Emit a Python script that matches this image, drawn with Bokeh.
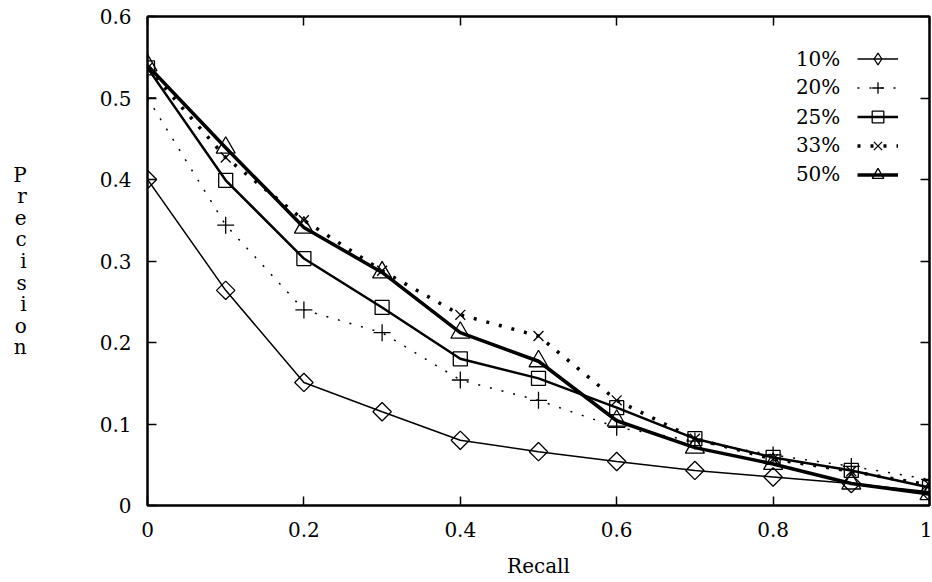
import numpy as np
from bokeh.plotting import figure
from bokeh.models import Range1d, LinearAxis, FixedTicker, Legend, LegendItem, Label
from bokeh.embed import file_html
from bokeh.resources import INLINE

# ---- data ----
recall = [0.0, 0.1, 0.2, 0.3, 0.4, 0.5, 0.6, 0.7, 0.8, 0.9, 1.0]
p10 = [0.400, 0.264, 0.151, 0.115, 0.080, 0.066, 0.054, 0.043, 0.035, 0.027, 0.017]
p20 = [0.500, 0.344, 0.240, 0.212, 0.154, 0.129, 0.096, 0.079, 0.062, 0.048, 0.032]
p25 = [0.537, 0.399, 0.303, 0.243, 0.180, 0.156, 0.120, 0.082, 0.059, 0.043, 0.022]
p33 = [0.537, 0.427, 0.350, 0.288, 0.234, 0.208, 0.129, 0.082, 0.057, 0.042, 0.025]
p50 = [0.540, 0.439, 0.341, 0.286, 0.212, 0.177, 0.104, 0.071, 0.051, 0.027, 0.014]
series_names = ["10%", "20%", "25%", "33%", "50%"]

x_ticks = [0, 0.2, 0.4, 0.6, 0.8, 1]
x_tick_labels = ["0", "0.2", "0.4", "0.6", "0.8", "1"]
y_ticks = [0, 0.1, 0.2, 0.3, 0.4, 0.5, 0.6]
y_tick_labels = ["0", "0.1", "0.2", "0.3", "0.4", "0.5", "0.6"]

FONT = "DejaVu Serif"
FS = "20px"

p = figure(width=932, height=582, x_range=Range1d(0, 1), y_range=Range1d(0, 0.6),
           output_backend="svg", toolbar_location=None,
           min_border_left=147, min_border_top=16, min_border_right=3, min_border_bottom=77)
p.xgrid.visible = False
p.ygrid.visible = False
p.outline_line_color = "black"
p.outline_line_width = 2
p.background_fill_color = "white"
p.border_fill_color = "white"

def style_axis(ax, ticks, labels, show_labels=True):
    ax.ticker = FixedTicker(ticks=ticks)
    if show_labels:
        ax.major_label_overrides = {t: l for t, l in zip(ticks, labels)}
        ax.major_label_text_font_size = FS
    else:
        ax.major_label_overrides = {t: "" for t in ticks}
        ax.major_label_text_font_size = "1px"
        ax.major_label_standoff = 0
    ax.axis_line_width = 2
    ax.axis_line_color = "black"
    ax.major_tick_in = 9
    ax.major_tick_out = 0
    ax.major_tick_line_width = 1.5
    ax.major_tick_line_color = "black"
    ax.minor_tick_line_color = None
    ax.major_label_text_font = FONT
    ax.major_label_text_color = "black"
    ax.axis_label_text_font = FONT
    ax.axis_label_text_font_size = FS
    ax.axis_label_text_font_style = "normal"
    ax.axis_label_text_color = "black"

xa = p.xaxis[0]
style_axis(xa, x_ticks, x_tick_labels)
xa.axis_label = "Recall"
xa.major_label_standoff = 16
xa.axis_label_standoff = 14

ya = p.yaxis[0]
style_axis(ya, y_ticks, y_tick_labels)
ya.axis_label = "P\nr\ne\nc\ni\ns\ni\no\nn"
ya.axis_label_orientation = "horizontal"
ya.axis_label_text_line_height = 0.9
ya.major_label_standoff = 16
ya.axis_label_standoff = 70

ra = LinearAxis()
style_axis(ra, y_ticks, y_tick_labels, show_labels=False)
p.add_layout(ra, "right")

ta = LinearAxis()
style_axis(ta, x_ticks, x_tick_labels, show_labels=False)
p.add_layout(ta, "above")

# ---- series ----
styles = [
    dict(y=p10, lw=1.5, dash="solid", marker="square", angle=np.pi / 4, size=13, legend_marker="diamond"),
    dict(y=p20, lw=1.5, dash="2 10", marker="cross", angle=0, size=17, legend_marker=None),
    dict(y=p25, lw=2.5, dash="solid", marker="square", angle=0, size=14, legend_marker=None),
    dict(y=p33, lw=3.5, dash="3 10", marker="x", angle=0, size=14, legend_marker=None),
    dict(y=p50, lw=3.5, dash="solid", marker="triangle", angle=0, size=19, legend_marker=None),
]

items = []
for name, st in zip(series_names, styles):
    lr = p.line(recall, st["y"], line_color="black", line_width=st["lw"],
                line_dash=st["dash"], line_cap="butt")
    sr = p.scatter(recall, st["y"], marker=st["marker"], angle=st["angle"], size=st["size"],
                   fill_color=None, line_color="black", line_width=1.3)
    if st["legend_marker"]:
        # legend-only proxy (a single undrawable NaN point) so the key shows a diamond
        proxy = p.scatter(x=[float("nan")], y=[float("nan")], marker=st["legend_marker"],
                          size=st["size"], fill_color=None, line_color="black", line_width=1.3)
        items.append(LegendItem(label=" ", renderers=[lr, proxy]))
    else:
        items.append(LegendItem(label=" ", renderers=[lr, sr]))

# legend samples only (gnuplot style: text on the left, drawn as labels below)
legend = Legend(items=items, location=(710, 316), border_line_color=None,
                background_fill_alpha=0, padding=0, margin=0, spacing=0,
                glyph_width=41, glyph_height=29, label_height=29, label_width=0,
                label_standoff=0, label_text_font=FONT, label_text_font_size=FS)
p.add_layout(legend)

legend_text_x = 0.886
legend_text_y = [0.548, 0.513, 0.477, 0.442, 0.407]
for name, ty in zip(series_names, legend_text_y):
    p.add_layout(Label(x=legend_text_x, y=ty, text=name, text_align="right",
                       text_baseline="middle", text_font=FONT, text_font_size=FS,
                       text_color="black"))

open("out.html", "w").write(file_html(p, INLINE))
